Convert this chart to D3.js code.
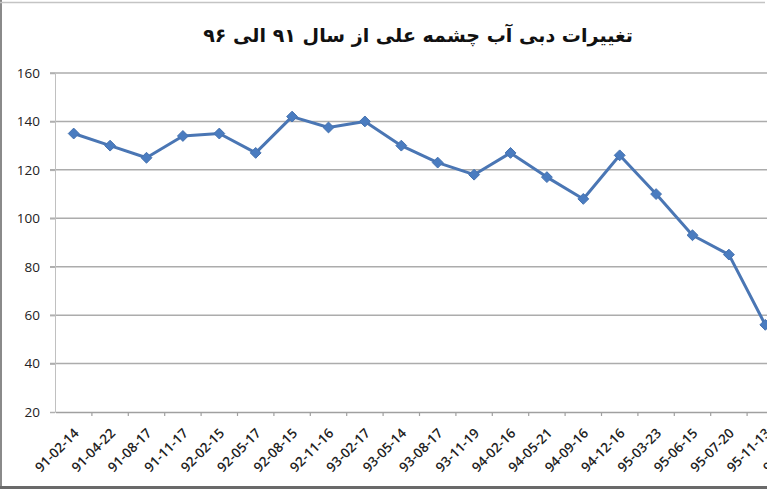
<!DOCTYPE html>
<html><head><meta charset="utf-8">
<script src="https://cdn.jsdelivr.net/npm/d3@7"></script>
<style>html,body{margin:0;padding:0;background:#fff;overflow:hidden}</style>
</head><body>
<svg id="chart" width="780" height="489"></svg>
<script>
const title = "تغییرات دبی آب چشمه علی از سال ۹۱ الی ۹۶";
const categories = ["91-02-14","91-04-22","91-08-17","91-11-17","92-02-15","92-05-17","92-08-15","92-11-16","93-02-17","93-05-14","93-08-17","93-11-19","94-02-16","94-05-21","94-09-16","94-12-16","95-03-23","95-06-15","95-07-20","95-11-13","96-02-15"];
const values = [135,130,125,134,135,127,142,137.5,140,130,123,118,127,117,108,126,110,93,85,56,null];
const yTicks = [20,40,60,80,100,120,140,160];

const svg = d3.select("#chart");
const W = 767, H = 489;
svg.append("defs").append("clipPath").attr("id","clip")
  .append("rect").attr("x",0).attr("y",0).attr("width",W).attr("height",H);
const g = svg.append("g").attr("clip-path","url(#clip)");

const x = d3.scaleBand().domain(categories).range([55.5, 55.5 + 36.4*categories.length]);
const y = d3.scaleLinear().domain([20,160]).range([412,73]);

// frame
g.append("rect").attr("x",0).attr("y",0).attr("width",2).attr("height",H).attr("fill","#8a8a8a");
g.append("line").attr("x1",0).attr("x2",W-2).attr("y1",2.5).attr("y2",2.5).attr("stroke","#c4c4c4").attr("stroke-width",1.5);
g.append("rect").attr("x",0).attr("y",486).attr("width",W).attr("height",3).attr("fill","#6a6a6a");

// gridlines
g.append("g").selectAll("line").data(yTicks.filter(d=>d>20)).join("line")
  .attr("x1",50).attr("x2",W).attr("y1",d=>y(d)).attr("y2",d=>y(d))
  .attr("stroke","#acacac").attr("stroke-width",1.5);

// y axis
const ya = g.append("g").attr("transform","translate(55,0)")
  .call(d3.axisLeft(y).tickValues(yTicks).tickSize(5).tickPadding(10));
ya.select(".domain").attr("stroke","#c0c0c0").attr("stroke-width",1);
ya.selectAll(".tick line").attr("stroke","#b0b0b0").attr("stroke-width",1.5);
ya.selectAll("text").attr("font-family","'Open Sans', sans-serif").attr("font-size",13.5).attr("fill","#222");

// x axis
const xa = g.append("g").attr("transform","translate(0,412)")
  .call(d3.axisBottom(x).tickSize(0).tickPadding(0));
xa.select(".domain").attr("stroke","#a0a0a0").attr("stroke-width",1.5);
xa.selectAll(".tick text").attr("font-family","'Open Sans', sans-serif").attr("font-size",13.5)
  .attr("font-weight",600).attr("fill","#222")
  .attr("text-anchor","end").attr("dy",0).attr("transform","translate(6,22) rotate(-45)");
// boundary ticks
const bounds = categories.map(c => x(c) + x.bandwidth());
g.append("g").selectAll("line").data(bounds).join("line")
  .attr("x1",d=>d).attr("x2",d=>d).attr("y1",412).attr("y2",416)
  .attr("stroke","#a0a0a0").attr("stroke-width",1.2);

// line
const pts = categories.map((c,i)=>({c, v: values[i]})).filter(d=>d.v!=null);
const line = d3.line().x(d=>x(d.c)+x.bandwidth()/2).y(d=>y(d.v));
g.append("path").datum(pts).attr("d",line).attr("fill","none")
  .attr("stroke","#4a76b4").attr("stroke-width",3).attr("stroke-linejoin","round");
g.append("g").selectAll("path").data(pts).join("path")
  .attr("d", d3.symbol().type(d3.symbolDiamond2).size(75))
  .attr("transform", d=>`translate(${x(d.c)+x.bandwidth()/2},${y(d.v)})`)
  .attr("fill","#4a7cc0").attr("stroke","#4572b0").attr("stroke-width",1);

// title
const t = svg.append("text").attr("x",418).attr("y",42).attr("text-anchor","middle")
  .attr("direction","rtl")
  .attr("font-family","'DejaVu Sans', sans-serif").attr("font-weight","bold").attr("font-size",20).attr("fill","#111")
  .text(title);
const tw = t.node().getComputedTextLength();
t.attr("font-size", 20*430/tw);
</script>
</body></html>
